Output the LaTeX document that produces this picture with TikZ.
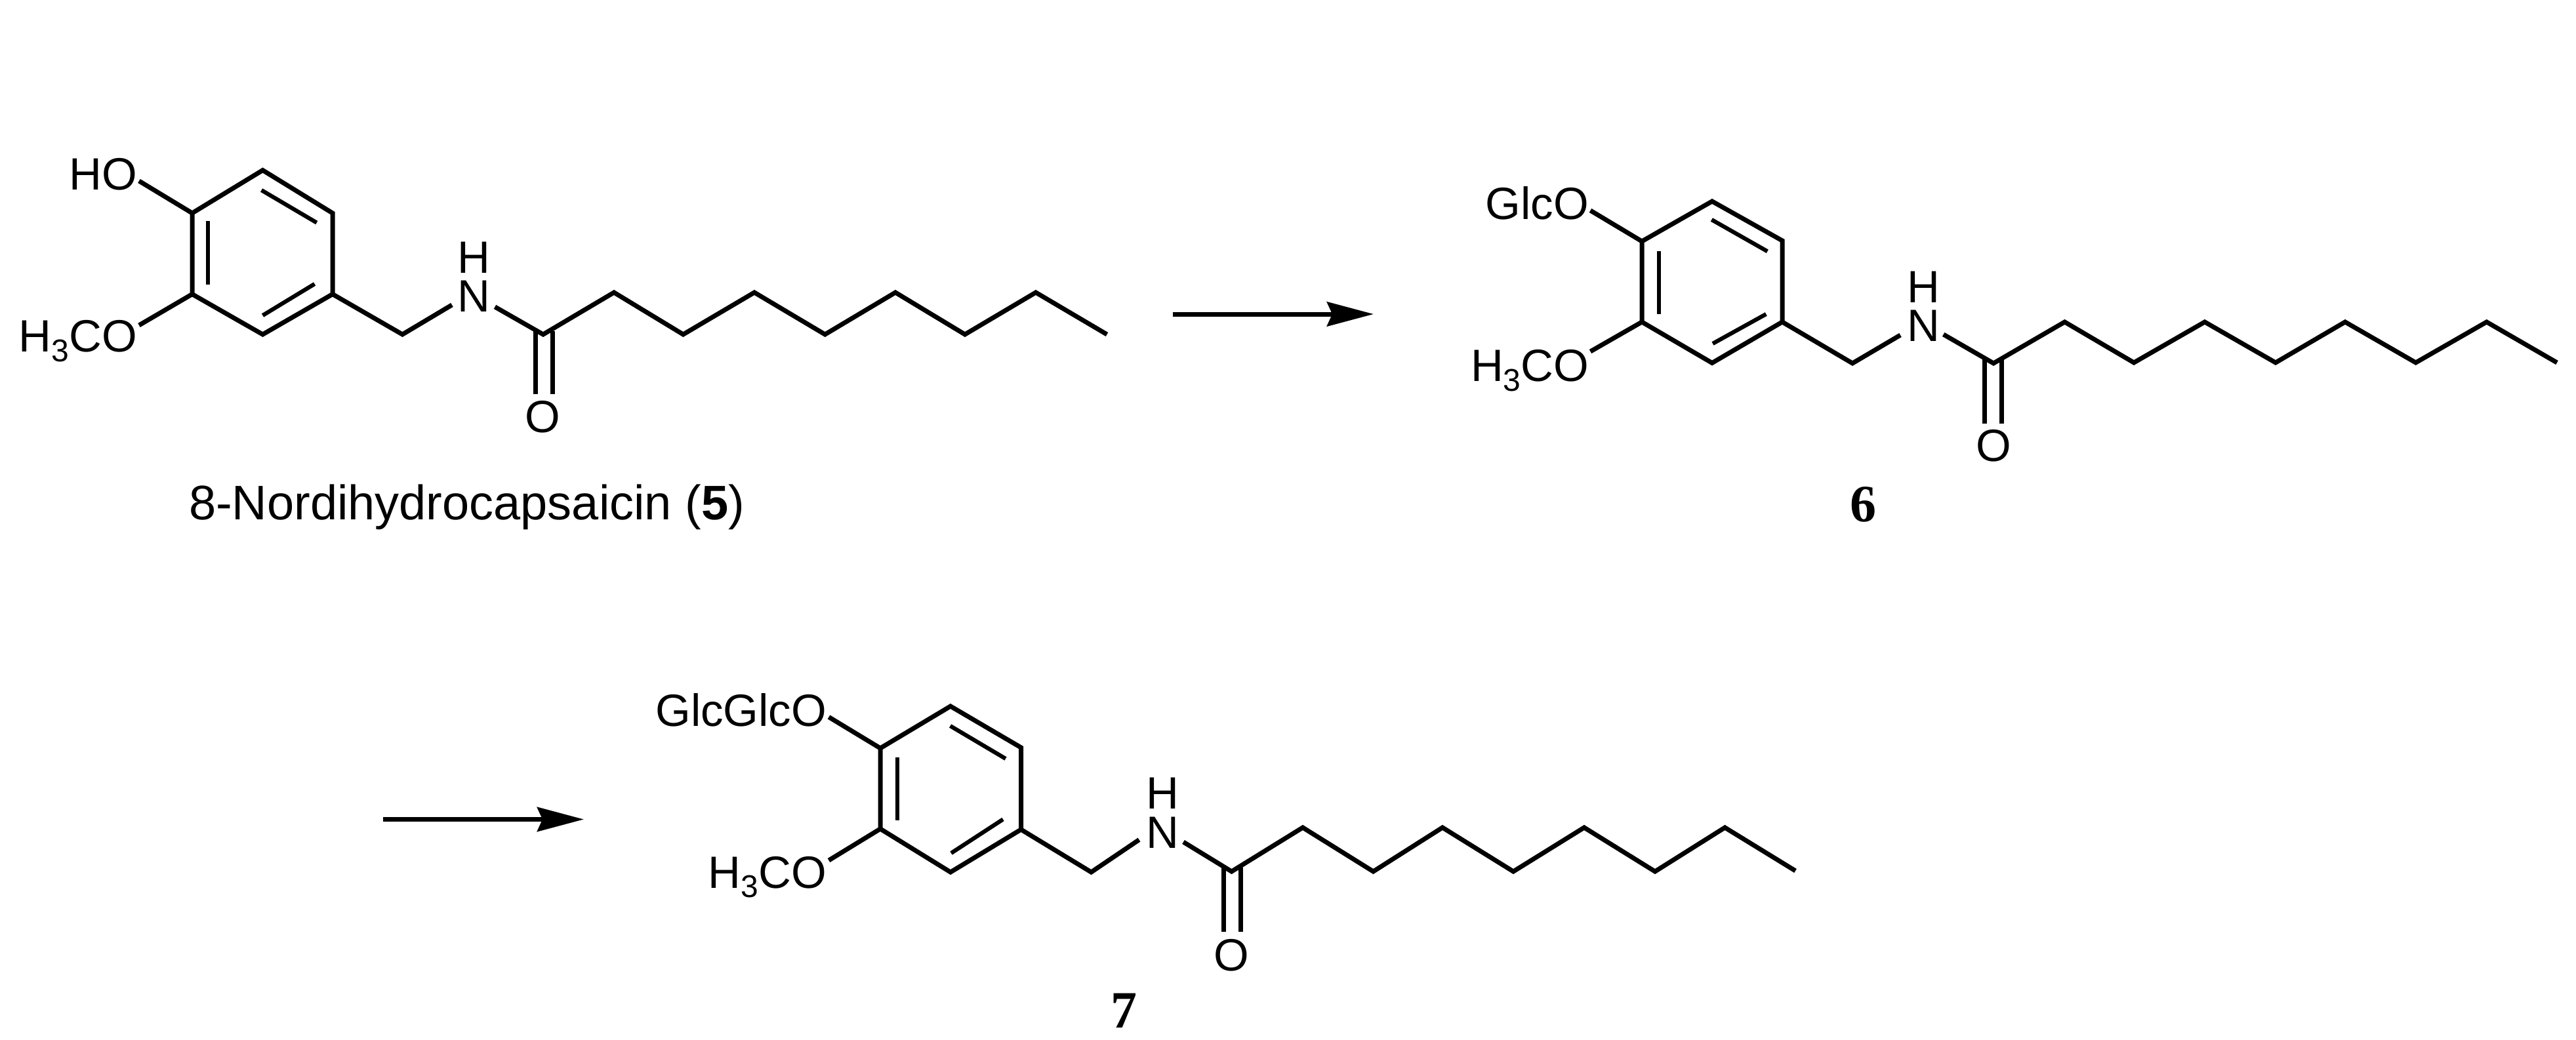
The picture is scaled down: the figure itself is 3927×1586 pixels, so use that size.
\documentclass[tikz,border=0pt]{standalone}
\usepackage{fontspec}
\setmainfont{Liberation Sans}
\newfontfamily\numfont{Liberation Serif}
\usetikzlibrary{arrows.meta}
\newcommand{\subthree}{\raisebox{-14.5pt}{\fontsize{48}{50}\selectfont 3}}
\tikzset{
  x=1pt,y=-1pt,
  bond/.style={draw=black,line width=7pt,line join=miter,miter limit=10,line cap=butt},
  inner/.style={draw=black,line width=6.2pt,line cap=butt},
  reaction/.style={draw=black,line width=7pt,-{Stealth[length=71pt,width=37pt,inset=8pt]}},
  atom/.style={inner sep=0pt,outer sep=0pt,font=\fontsize{69}{72}\selectfont},
  caption/.style={inner sep=0pt,outer sep=0pt,font=\fontsize{74}{76}\selectfont},
  compound/.style={inner sep=0pt,outer sep=0pt,font=\fontsize{80}{84}\selectfont\numfont\bfseries},
}
\begin{document}
\begin{tikzpicture}
\useasboundingbox[fill=white] (0,0) rectangle (3927,1586);
% ---------- compound 5 ----------
\foreach \n/\p in {a1/{293,325},a2/{400.5,259.6},a3/{507,325},a4/{507,448.6},a5/{400.5,510},a6/{293,448.6},
  aho/{212,276},ame/{212,496},ach/{613.5,510},anl/{689,465},anr/{754.5,468},aco/{828,510},
  ap1/{936,446},av1/{1041.5,510},ap2/{1150,446},av2/{1257.7,510},ap3/{1365,446},av3/{1471,510},ap4/{1579,446},aend/{1687.5,510},
  ao1/{816,505},ao2/{816,600.7},ao3/{842,505},ao4/{842,600.7},
  ai1/{317,337.5},ai2/{317,433.7},ai3/{398.6,290},ai4/{482.8,339.6},ai5/{479.6,433},ai6/{400.5,481}}
  {\coordinate (\n) at (\p);}
\draw[bond] (a1) -- (a2) -- (a3) -- (a4) -- (a5) -- (a6) -- cycle;
\draw[bond] (aho) -- (a1);
\draw[bond] (a6) -- (ame);
\draw[bond] (a4) -- (ach) -- (anl);
\draw[bond] (anr) -- (aco) -- (ap1) -- (av1) -- (ap2) -- (av2) -- (ap3) -- (av3) -- (ap4) -- (aend);
\draw[bond] (ao1) -- (ao2);
\draw[bond] (ao3) -- (ao4);
\draw[inner] (ai1) -- (ai2);
\draw[inner] (ai3) -- (ai4);
\draw[inner] (ai5) -- (ai6);
\node[atom,anchor=base east] (aHO) at (209,290) {HO};
\node[atom,anchor=base east] (aOMe) at (209,536.5) {H\subthree CO};
\node[atom,anchor=base] (aN) at (722.6,475) {N};
\node[atom,anchor=base] (aH) at (722.6,416) {H};
\node[atom,anchor=base] (aO) at (827,659) {O};
\node[caption,anchor=base west] (acap) at (288,792.6) {8-Nordihydrocapsaicin (\textbf{5})};
% ---------- arrow 1 ----------
\coordinate (r1s) at (1788,479);
\coordinate (r1e) at (2094,477);
\draw[reaction] (r1s) -- (r1s -| r1e);
% ---------- compound 6 ----------
\foreach \n/\p in {b1/{2503,368},b2/{2610,307},b3/{2717,367},b4/{2717,491},b5/{2610,553.5},b6/{2503,491},
  bho/{2424.5,321},bme/{2424.5,536},bch/{2824,554},bnl/{2897,511},bnr/{2962.7,510},bco/{3039,554},
  bp1/{3147.5,491},bv1/{3253,553},bp2/{3361,491},bv2/{3469,553},bp3/{3575,491},bv3/{3682.7,553},bp4/{3790.7,491},bend/{3898,553},
  bo1/{3025.7,547},bo2/{3025.7,645.7},bo3/{3051,547},bo4/{3051,645.7},
  bi1/{2528.7,383.3},bi2/{2528.7,479},bi3/{2609.3,335},bi4/{2694.3,383.3},bi5/{2692.3,479},bi6/{2611,524}}
  {\coordinate (\n) at (\p);}
\draw[bond] (b1) -- (b2) -- (b3) -- (b4) -- (b5) -- (b6) -- cycle;
\draw[bond] (bho) -- (b1);
\draw[bond] (b6) -- (bme);
\draw[bond] (b4) -- (bch) -- (bnl);
\draw[bond] (bnr) -- (bco) -- (bp1) -- (bv1) -- (bp2) -- (bv2) -- (bp3) -- (bv3) -- (bp4) -- (bend);
\draw[bond] (bo1) -- (bo2);
\draw[bond] (bo3) -- (bo4);
\draw[inner] (bi1) -- (bi2);
\draw[inner] (bi3) -- (bi4);
\draw[inner] (bi5) -- (bi6);
\node[atom,anchor=base east] (bGlc) at (2422,334.5) {GlcO};
\node[atom,anchor=base east] (bOMe) at (2422,581.5) {H\subthree CO};
\node[atom,anchor=base] (bN) at (2932,520) {N};
\node[atom,anchor=base] (bH) at (2932,461) {H};
\node[atom,anchor=base] (bO) at (3039,703) {O};
\node[compound,anchor=base] (blab) at (2840,795) {6};
% ---------- arrow 2 ----------
\coordinate (r2s) at (584,1249.5);
\coordinate (r2e) at (890,1248);
\draw[reaction] (r2s) -- (r2s -| r2e);
% ---------- compound 7 ----------
\foreach \n/\p in {c1/{1342,1141},c2/{1449,1077},c3/{1556.5,1140},c4/{1556.5,1265},c5/{1449,1330},c6/{1342,1264},
  cho/{1263.5,1093.5},cme/{1263.5,1312},cch/{1663.5,1330},cnl/{1736.5,1280.6},cnr/{1804,1284},cco/{1877.5,1329},
  cp1/{1986,1262},cv1/{2093.5,1329},cp2/{2199,1262},cv2/{2307,1329},cp3/{2415,1262},cv3/{2523,1329},cp4/{2629.5,1262},cend/{2737,1328},
  co1/{1865.5,1323},co2/{1865.5,1420.7},co3/{1891.5,1323},co4/{1891.5,1420.7},
  ci1/{1368,1155},ci2/{1368,1250.6},ci3/{1448.6,1107},ci4/{1533,1157},ci5/{1529,1249.5},ci6/{1450,1301}}
  {\coordinate (\n) at (\p);}
\draw[bond] (c1) -- (c2) -- (c3) -- (c4) -- (c5) -- (c6) -- cycle;
\draw[bond] (cho) -- (c1);
\draw[bond] (c6) -- (cme);
\draw[bond] (c4) -- (cch) -- (cnl);
\draw[bond] (cnr) -- (cco) -- (cp1) -- (cv1) -- (cp2) -- (cv2) -- (cp3) -- (cv3) -- (cp4) -- (cend);
\draw[bond] (co1) -- (co2);
\draw[bond] (co3) -- (co4);
\draw[inner] (ci1) -- (ci2);
\draw[inner] (ci3) -- (ci4);
\draw[inner] (ci5) -- (ci6);
\node[atom,anchor=base east] (cGlc) at (1260,1107.5) {GlcGlcO};
\node[atom,anchor=base east] (cOMe) at (1260,1354) {H\subthree CO};
\node[atom,anchor=base] (cN) at (1772,1293) {N};
\node[atom,anchor=base] (cH) at (1772,1233) {H};
\node[atom,anchor=base] (cO) at (1877,1480) {O};
\node[compound,anchor=base] (clab) at (1713,1567) {7};
\end{tikzpicture}
\end{document}
